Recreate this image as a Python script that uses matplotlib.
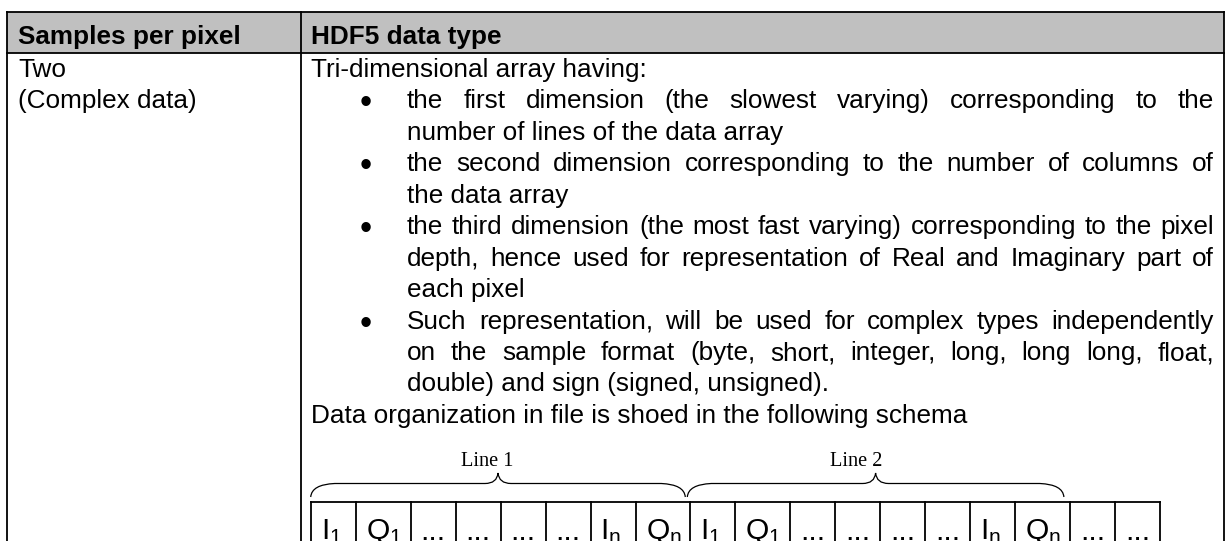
import matplotlib
matplotlib.use('Agg')
import matplotlib.pyplot as plt
from matplotlib.patches import Rectangle, PathPatch
from matplotlib.path import Path

plt.rcParams['font.family'] = ['Liberation Sans', 'DejaVu Sans']
plt.rcParams['mathtext.fontset'] = 'custom'
plt.rcParams['mathtext.rm'] = 'Liberation Sans'
plt.rcParams['mathtext.it'] = 'Liberation Sans'

# ---------------- content ----------------
header_labels = ['Samples per pixel', 'HDF5 data type']
left_lines = ['Two', '(Complex data)']
# each entry: (text, bullet_start, justified)
right_lines = [
    ('Tri-dimensional array having:', None, False),
    ('the first dimension (the slowest varying) corresponding to the', True, True),
    ('number of lines of the data array', False, False),
    ('the second dimension corresponding to the number of columns of', True, True),
    ('the data array', False, False),
    ('the third dimension (the most fast varying) corresponding to the pixel', True, True),
    ('depth, hence used for representation of Real and Imaginary part of', False, True),
    ('each pixel', False, False),
    ('Such representation, will be used for complex types independently', True, True),
    ('on the sample format (byte, short, integer, long, long long, float,', False, True),
    ('double) and sign (signed, unsigned).', False, False),
    ('Data organization in file is shoed in the following schema', None, False),
]
cell_labels = [r'$\mathregular{I_1}$', r'$\mathregular{Q_1}$', '...', '...', '...', '...',
               r'$\mathregular{I_n}$', r'$\mathregular{Q_n}$',
               r'$\mathregular{I_1}$', r'$\mathregular{Q_1}$', '...', '...', '...', '...',
               r'$\mathregular{I_n}$', r'$\mathregular{Q_n}$', '...', '...']
brace_labels = ['Line 1', 'Line 2']
brace_cells = [(0, 7), (8, 15)]

# ---------------- layout ----------------
W, H = 1229, 541
fig = plt.figure(figsize=(W / 100, H / 100), dpi=100)
ax = fig.add_axes([0, 0, 1, 1])
ax.set_xlim(0, W)
ax.set_ylim(H, 0)
ax.axis('off')

LX, DX, RX = 7, 301, 1224
TOP, HB = 12, 53
lw = 1.3
FS = 18.8
txt_kw = dict(fontsize=FS, color='black', va='baseline')

ax.add_patch(Rectangle((LX, TOP), RX - LX, HB - TOP, fc='#c0c0c0', ec='none', zorder=0))
for y in (TOP, HB):
    ax.plot([LX, RX], [y, y], color='black', lw=lw, solid_capstyle='projecting')
for x in (LX, DX, RX):
    ax.plot([x, x], [TOP, H + 5], color='black', lw=lw, solid_capstyle='projecting')

# header
ax.text(18, 44, header_labels[0], fontweight='bold', **txt_kw)
ax.text(DX + 10, 44, header_labels[1], fontweight='bold', **txt_kw)

base0, step = 77, 31.45
for i, s in enumerate(left_lines):
    ax.text(18, base0 + step * i, s, **txt_kw)

renderer = fig.canvas.get_renderer()
x_plain, x_bul, x_txt, x_right = DX + 10, 366, 407, RX - 10
for i, (s, bullet, just) in enumerate(right_lines):
    y = base0 + step * i
    if bullet is None:
        ax.text(x_plain, y, s, **txt_kw)
        continue
    if bullet:
        ax.text(x_bul, y + 5, '\u2022', ha='center', va='baseline', fontsize=25, color='black')
    if not just:
        ax.text(x_txt, y, s, **txt_kw)
        continue
    words = s.split(' ')
    objs = [ax.text(0, y, w, **txt_kw) for w in words]
    widths = [o.get_window_extent(renderer).width for o in objs]
    gap = (x_right - x_txt - sum(widths)) / (len(words) - 1)
    x = x_txt
    for o, w in zip(objs, widths):
        o.set_x(x)
        x += w + gap

# schema cells
narrow, wide = 45.0, 54.8
cx0, ctop = 310.7, 502
edges = [cx0]
for lab in cell_labels:
    edges.append(edges[-1] + (wide if 'Q' in lab else narrow))
ax.plot([edges[0], edges[-1]], [ctop, ctop], color='black', lw=lw, solid_capstyle='projecting')
for x in edges:
    ax.plot([x, x], [ctop, H + 5], color='black', lw=lw)
for lab, xl in zip(cell_labels, edges[:-1]):
    ax.text(xl + 10, 539.5, lab, fontsize=21.6, va='baseline', color='black')

# braces
def brace(x0, x1, y_end=497, y_flat=483.5, y_peak=473, r=24, rt=13):
    xm = (x0 + x1) / 2
    verts = [(x0, y_end), (x0 + 1, y_flat + 1), (x0 + r, y_flat),
             (xm - rt, y_flat),
             (xm - 1, y_flat), (xm, y_peak),
             (xm + 1, y_flat), (xm + rt, y_flat),
             (x1 - r, y_flat),
             (x1 - 1, y_flat + 1), (x1, y_end)]
    codes = [Path.MOVETO, Path.CURVE3, Path.CURVE3, Path.LINETO,
             Path.CURVE3, Path.CURVE3, Path.CURVE3, Path.CURVE3,
             Path.LINETO, Path.CURVE3, Path.CURVE3]
    ax.add_patch(PathPatch(Path(verts, codes), fc='none', ec='black', lw=0.9))
    return xm

offs = [(0, -5, -11), (-3, -6, -19)]
for (a, b), lab, (o0, o1, ol) in zip(brace_cells, brace_labels, offs):
    xm = brace(edges[a] + o0, edges[b + 1] + o1)
    ax.text(xm + ol, 466, lab, fontsize=14.6, family=['Liberation Serif', 'DejaVu Serif'],
            ha='center', va='baseline', color='black')

fig.savefig('out.png', dpi=100)
